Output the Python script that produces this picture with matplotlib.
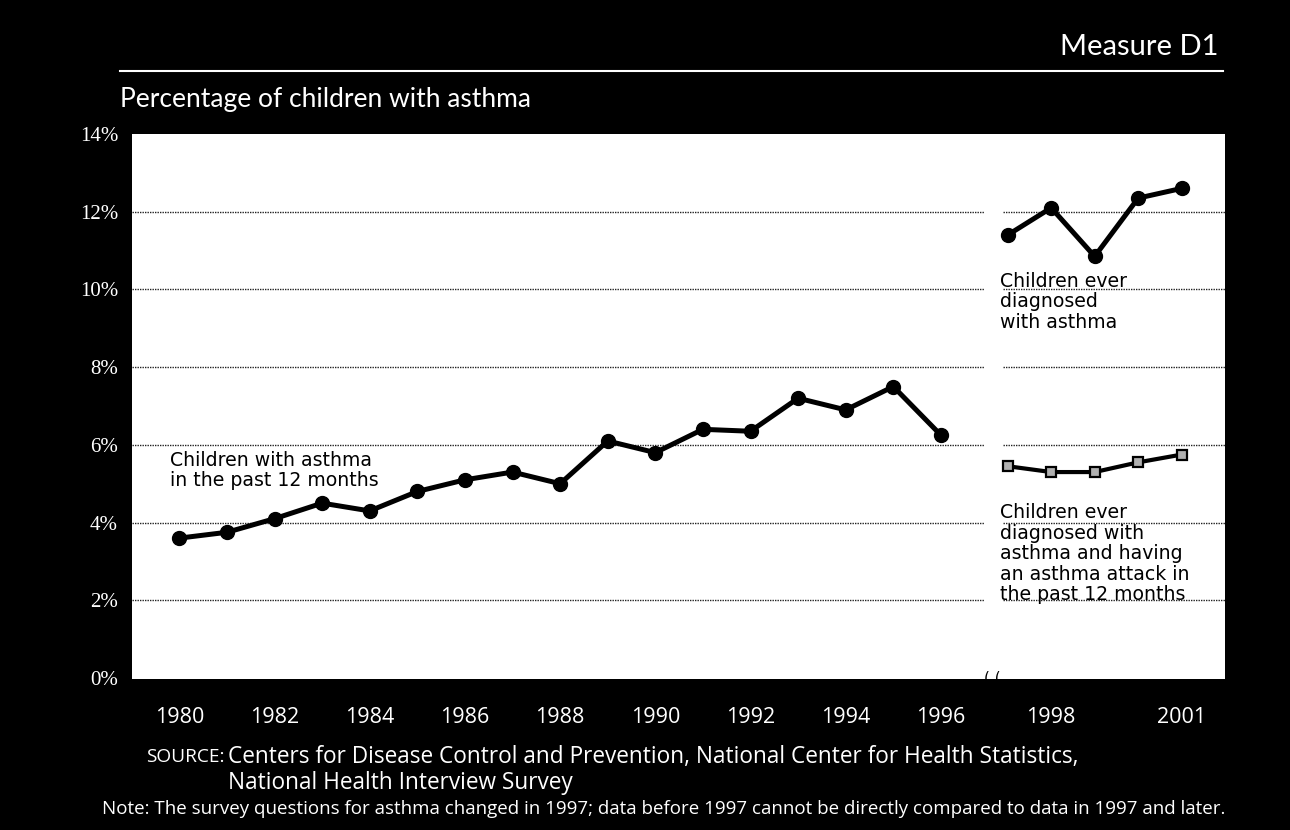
import matplotlib
matplotlib.use("Agg")
import matplotlib.pyplot as plt
from matplotlib.patches import Rectangle

# === data ===
years_past12 = list(range(1980, 1997))
pct_past12 = [3.6, 3.75, 4.1, 4.5, 4.3, 4.8, 5.1, 5.3, 5.0, 6.1, 5.8, 6.4, 6.35, 7.2, 6.9, 7.5, 6.25]

years_new = [1997, 1998, 1999, 2000, 2001]
pct_ever = [11.4, 12.1, 10.85, 12.35, 12.6]
pct_attack = [5.45, 5.3, 5.3, 5.55, 5.75]

left_ticks = list(range(1980, 1997, 2))
right_ticks = [1998, 2001]
y_ticks = list(range(0, 15, 2))

W, H = 1290, 830


def fx(px):
    return px / W


def fy(py):
    return 1 - py / H


fig = plt.figure(figsize=(12.9, 8.3), dpi=100, facecolor="black")

# white plotting panel (behind both axes)
fig.patches.append(Rectangle((fx(132), fy(679)), fx(1225) - fx(132), fy(134) - fy(679),
                             transform=fig.transFigure, facecolor="white", edgecolor="none", zorder=0))

top, bot = 134, 678
ax1 = fig.add_axes([fx(132), fy(bot), fx(985) - fx(132), fy(top) - fy(bot)])
ax2 = fig.add_axes([fx(1003), fy(bot), fx(1225) - fx(1003), fy(top) - fy(bot)])

for ax in (ax1, ax2):
    ax.set_zorder(2)
    ax.set_facecolor("none")
    ax.set_ylim(0, 14)
    for s in ax.spines.values():
        s.set_visible(False)
    for g in range(2, 13, 2):
        ax.axhline(g, color="#222222", lw=1.0, ls=(0, (1, 0.8)), zorder=1)
    ax.tick_params(length=0, colors="white")

ax1.set_xlim(1979.006, 1996.926)
ax2.set_xlim(1996.892, 2001.996)

# series
ax1.plot(years_past12, pct_past12, color="black", lw=3.6, marker="o", ms=10, zorder=3, clip_on=False)
ax2.plot(years_new, pct_ever, color="black", lw=3.6, marker="o", ms=10, zorder=3, clip_on=False)
ax2.plot(years_new, pct_attack, color="black", lw=3.0, marker="s", ms=7.5,
         mfc="#b0b0b0", mec="black", mew=1.6, zorder=3, clip_on=False)

# axes ticks
xfont = dict(family="Open Sans", size=15.5, color="white")
ax1.set_xticks(left_ticks)
ax1.set_xticklabels([str(y) for y in left_ticks], **xfont)
ax2.set_xticks(right_ticks)
ax2.set_xticklabels([str(y) for y in right_ticks], **xfont)
for ax in (ax1, ax2):
    ax.tick_params(axis="x", pad=21)

ax1.set_yticks(y_ticks)
ax1.set_yticklabels([f"{v}%" for v in y_ticks], family="Liberation Serif", size=15, color="white")
ax1.tick_params(axis="y", pad=10)
ax2.set_yticks([])

# series labels
afont = dict(family="DejaVu Sans", size=13.6, color="black", va="top", ha="left", linespacing=1.1)
ax1.text(1979.80, 5.85, "Children with asthma\nin the past 12 months", **afont)
ax2.text(1996.82, 10.45, "Children ever\ndiagnosed\nwith asthma", clip_on=False, **afont)
ax2.text(1996.82, 4.5, "Children ever\ndiagnosed with\nasthma and having\nan asthma attack in\nthe past 12 months",
         clip_on=False, **afont)

# break mark between the two survey periods
fig.text(fx(992), fy(678), "( (", color="black", ha="center", va="center", fontsize=11,
         family="DejaVu Sans", zorder=5)

# headings
fig.text(fx(1218), fy(55), "Measure D1", color="white", ha="right", va="baseline",
         family="Lato", size=21)
fig.add_artist(plt.Line2D([fx(120), fx(1223)], [fy(71), fy(71)], color="white", lw=1.5,
                          transform=fig.transFigure))
fig.text(fx(120), fy(107), "Percentage of children with asthma", color="white", ha="left", va="baseline",
         family="Lato", size=19)

# source / note
sfont = dict(family="Open Sans", color="white", ha="left", va="center")
fig.text(fx(146), fy(757), "SOURCE:", size=13.8, **sfont)
fig.text(fx(228), fy(757), "Centers for Disease Control and Prevention, National Center for Health Statistics,",
         size=16.3, **sfont)
fig.text(fx(228), fy(783), "National Health Interview Survey", size=16.3, **sfont)
fig.text(fx(102), fy(809), "Note: The survey questions for asthma changed in 1997; data before 1997 cannot be "
         "directly compared to data in 1997 and later.", size=13.5, **sfont)

fig.savefig("out.png", dpi=100, facecolor="black")
